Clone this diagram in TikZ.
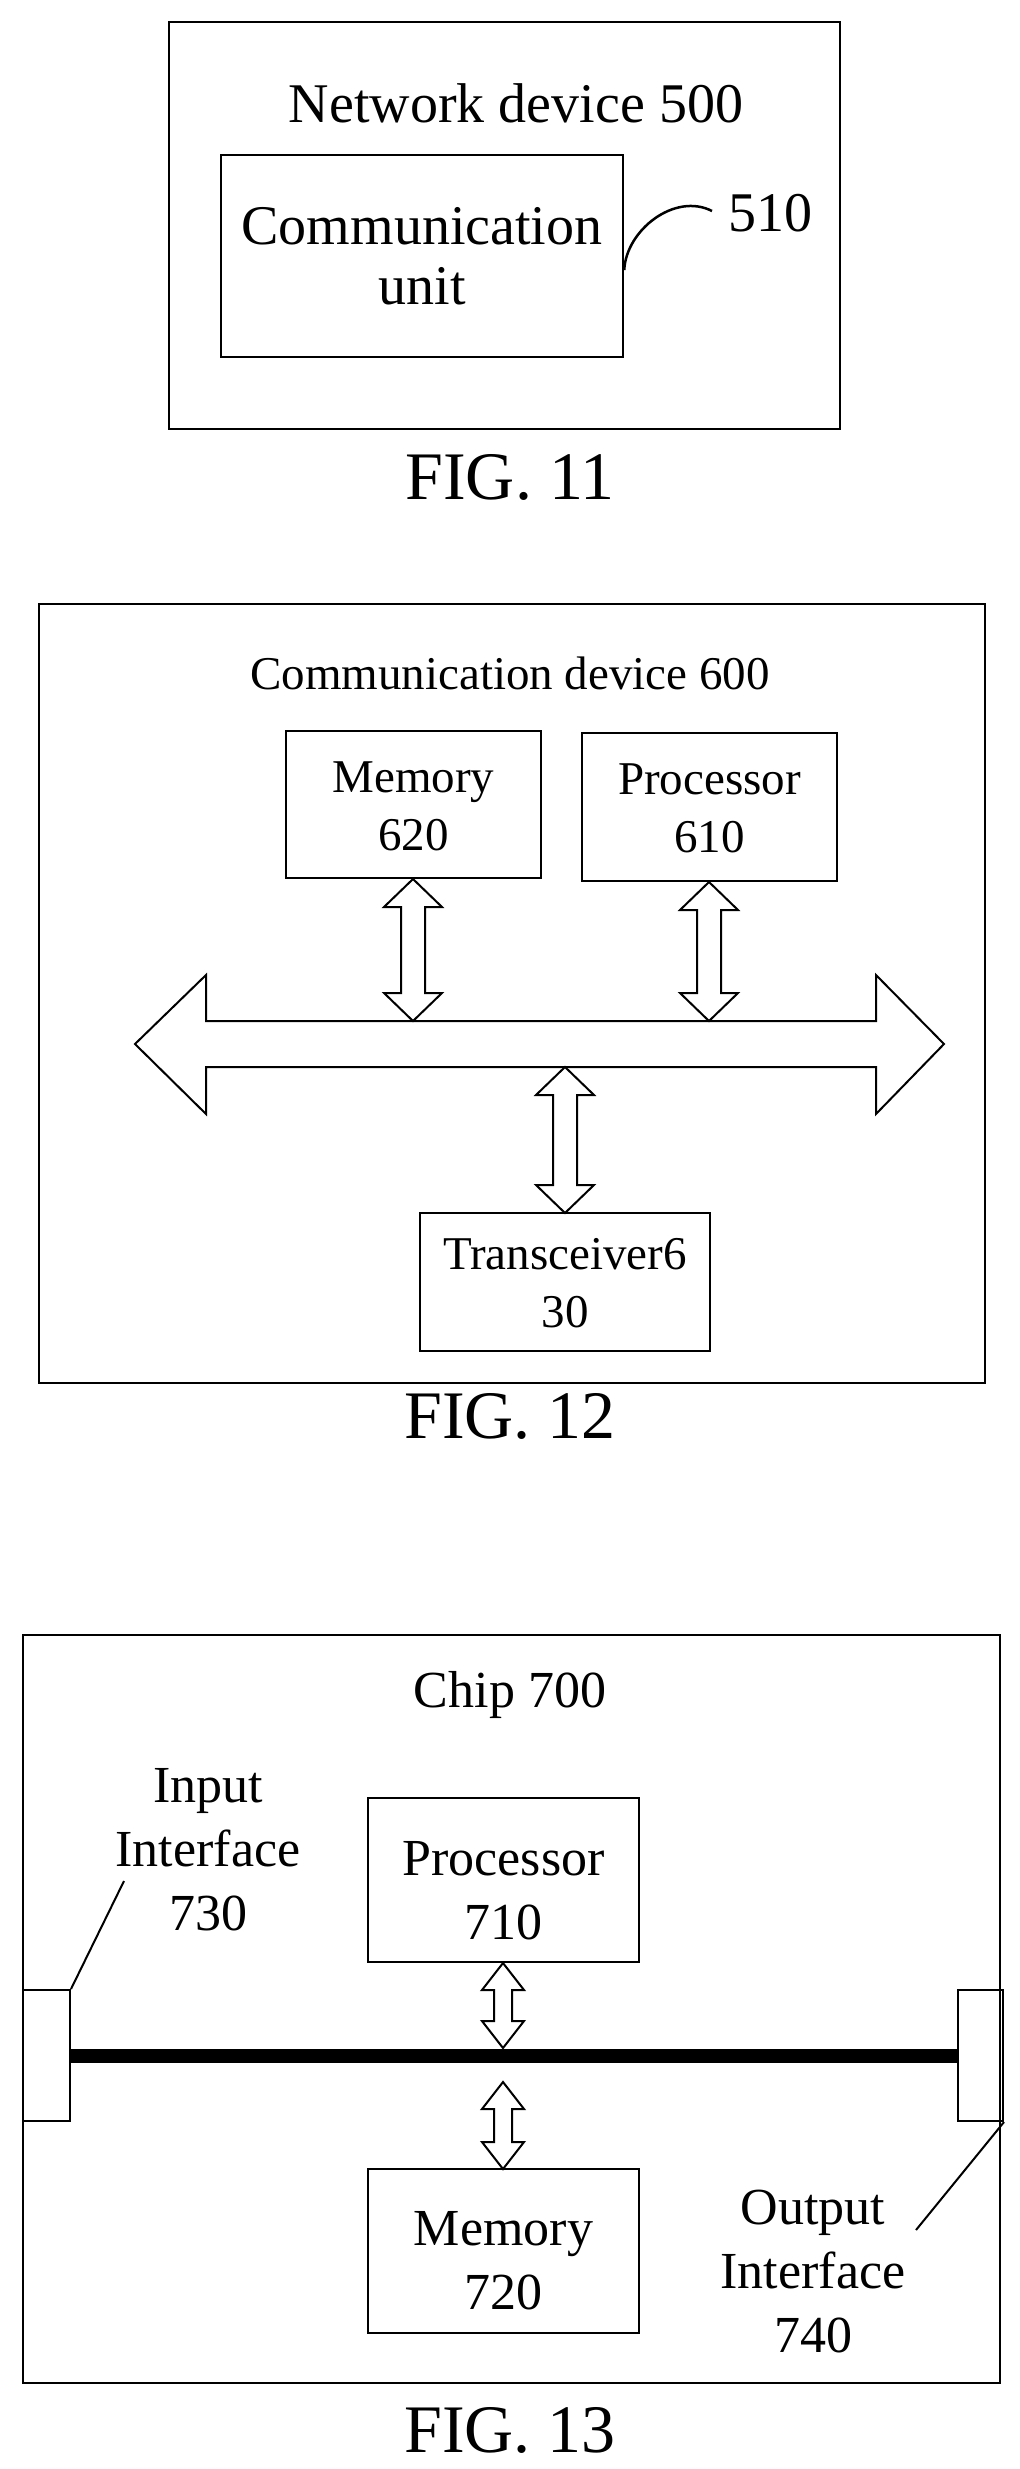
\documentclass[tikz,border=0pt]{standalone}
\usepackage{fontspec}
\setmainfont{Liberation Serif}
\newcommand\myvdarrow[6]{% x, y1, y2, head half, shaft half, head length
  \draw[arr] (#1,#2) -- ({#1+#4},{#2+#6}) -- ({#1+#5},{#2+#6}) -- ({#1+#5},{#3-#6}) -- ({#1+#4},{#3-#6}) -- (#1,#3)
   -- ({#1-#4},{#3-#6}) -- ({#1-#5},{#3-#6}) -- ({#1-#5},{#2+#6}) -- ({#1-#4},{#2+#6}) -- cycle;}
\begin{document}
\begin{tikzpicture}[x=1pt,y=-1pt,
  box/.style={draw,line width=2.5pt,inner sep=0pt},
  arr/.style={draw,line width=2pt,fill=white,line join=miter},
  t11/.style={font=\fontsize{56}{60}\selectfont,align=center},
  t12/.style={font=\fontsize{47}{58}\selectfont,align=center},
  t13/.style={font=\fontsize{52}{64}\selectfont,align=center},
  fig/.style={font=\fontsize{68}{72}\selectfont}]
\useasboundingbox (0,0) rectangle (1020,2469);
% FIG 11
\node[box,minimum width=671pt,minimum height=407pt] (nd) at (504.5,225.5) {};
\node[t11] (ndt) at (516,103) {Network device 500};
\node[box,minimum width=402pt,minimum height=202pt] (cu) at (422,256) {};
\node[t11] (cut) at (422,256) {Communication\\unit};
\node[t11] (l510) at (770,213) {510};
\coordinate (c510) at (712,211);
\draw[line width=2.5pt] (cu.east |- 0,270) .. controls (626,230) and (675,192) .. (c510);
\node[fig] (f11) at (510,477) {FIG. 11};
% FIG 12
\node[box,minimum width=946pt,minimum height=779pt] (cd) at (512,993.5) {};
\node[t12] (cdt) at (510,673) {Communication device 600};
\node[box,minimum width=255pt,minimum height=147pt] (m620) at (413.5,804.5) {};
\node[t12] (m620t) at (413.5,806) {Memory\\620};
\node[box,minimum width=255pt,minimum height=148pt] (p610) at (709.5,807) {};
\node[t12] (p610t) at (709.5,808) {Processor\\610};
\node[box,minimum width=290pt,minimum height=138pt] (tr) at (565,1282) {};
\node[t12] (trt) at (565,1283) {Transceiver6\\30};
\draw[arr] (135,1044) -- (206,975) -- (206,1021) -- (876,1021) -- (876,975) -- (944,1044) -- (876,1114) -- (876,1067) -- (206,1067) -- (206,1114) -- cycle;
\myvdarrow{413}{879}{1021}{29}{12}{28}
\myvdarrow{709}{882}{1021}{29}{12}{28}
\myvdarrow{565}{1067}{1213}{29}{12}{28}
\node[fig] (f12) at (510,1416) {FIG. 12};
% FIG 13
\node[box,minimum width=977pt,minimum height=748pt] (chip) at (511.5,2009) {};
\node[t13] (chipt) at (510,1695) {Chip 700};
\node[box,minimum width=271pt,minimum height=164pt] (p710) at (503.5,1880) {};
\node[t13] (p710t) at (503.5,1891) {Processor\\710};
\node[box,minimum width=271pt,minimum height=164pt] (m720) at (503.5,2251) {};
\node[t13] (m720t) at (503.5,2261) {Memory\\720};
\node[box,line width=2pt,minimum width=47pt,minimum height=131pt] (in) at (46.5,2055.5) {};
\node[box,line width=2pt,minimum width=45pt,minimum height=131pt] (out) at (980.5,2055.5) {};
\draw[line width=14pt] (in.east |- 0,2056) -- (out.west |- 0,2056);
\myvdarrow{503}{1963}{2048}{21}{9}{27}
\myvdarrow{503}{2082}{2169}{21}{9}{27}
\node[t13] (int) at (208,1850) {Input\\Interface\\730};
\node[t13] (outt) at (813,2272) {Output\\Interface\\740};
\coordinate (inl) at (124,1881);
\coordinate (outl) at (916,2230);
\draw[line width=2pt] (inl) -- (in.north east);
\draw[line width=2pt] (outl) -- (out.south east);
\node[fig] (f13) at (510,2430) {FIG. 13};
\end{tikzpicture}
\end{document}
